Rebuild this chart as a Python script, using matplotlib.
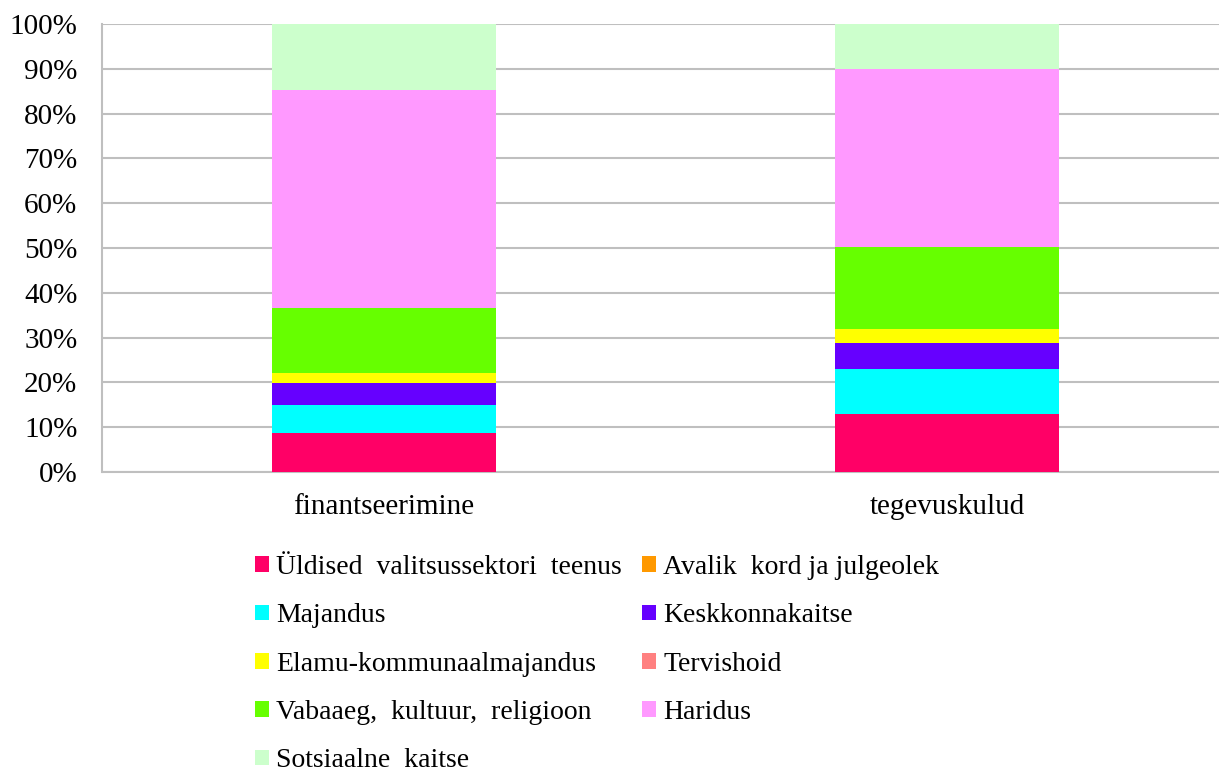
import matplotlib.pyplot as plt
import numpy as np
from matplotlib.patches import Patch
from matplotlib.ticker import FuncFormatter

plt.rcParams['font.family'] = ['Liberation Serif', 'DejaVu Serif']

categories = ['finantseerimine', 'tegevuskulud']
series = ['Üldised  valitsussektori  teenus', 'Avalik  kord ja julgeolek', 'Majandus',
          'Keskkonnakaitse', 'Elamu-kommunaalmajandus', 'Tervishoid',
          'Vabaaeg,  kultuur,  religioon', 'Haridus', 'Sotsiaalne  kaitse']
uldised = [8.6, 12.9]
avalik = [0.0, 0.0]
majandus = [6.4, 10.0]
keskkond = [4.9, 6.0]
elamu = [2.3, 3.0]
tervis = [0.0, 0.0]
vabaaeg = [14.5, 18.3]
haridus = [48.6, 39.8]
sotsiaal = [14.7, 10.0]
colors = ['#FF0066', '#FF9900', '#00FFFF', '#6600FF', '#FFFF00',
          '#FF8080', '#66FF00', '#FF99FF', '#CCFFCC']

values = [uldised, avalik, majandus, keskkond, elamu, tervis, vabaaeg, haridus, sotsiaal]

fig = plt.figure(figsize=(12.19, 7.71), dpi=100)
# axes runs past the right edge of the figure, like the original
ax = fig.add_axes([102.5/1219, 1 - 472/771, 1126/1219, 448/771])

x = np.arange(len(categories))
bottom = np.zeros(len(categories))
for vals, c in zip(values, colors):
  v = np.array(vals)
  ax.bar(x, v, 0.398, bottom=bottom, color=c, zorder=3)
  bottom += v

ax.set_xlim(-0.5, 1.5)
ax.set_ylim(0, 100)
ax.set_yticks(np.arange(0, 101, 10))
ax.yaxis.set_major_formatter(FuncFormatter(lambda v, p: '%d%%' % v))
ax.set_xticks(x)
ax.set_xticklabels(categories)
ax.tick_params(axis='both', length=0, labelsize=21)
ax.tick_params(axis='x', pad=16)
ax.tick_params(axis='y', pad=18)
ax.yaxis.grid(True, color='#BFBFBF', linewidth=1.5, zorder=0)
for s in ['top', 'right']:
  ax.spines[s].set_visible(False)
ax.spines['left'].set_color('#BFBFBF')
ax.spines['left'].set_linewidth(1.5)
ax.spines['bottom'].set_color('#BFBFBF')
ax.spines['bottom'].set_linewidth(1.5)

# legend entries in row order, two columns
handles = [Patch(facecolor=c) for c in colors]
order = [0, 2, 4, 6, 8, 1, 3, 5, 7]
leg = fig.legend([handles[i] for i in order], [series[i] for i in order],
  loc='upper left', bbox_to_anchor=(255/1219, 1 - 555/771),
  ncol=2, fontsize=20, frameon=False,
  handlelength=0.5, handleheight=0.5, handletextpad=0.25,
  columnspacing=0.75, labelspacing=0.84, borderaxespad=0, borderpad=0)

fig.savefig('out.png', dpi=100)
